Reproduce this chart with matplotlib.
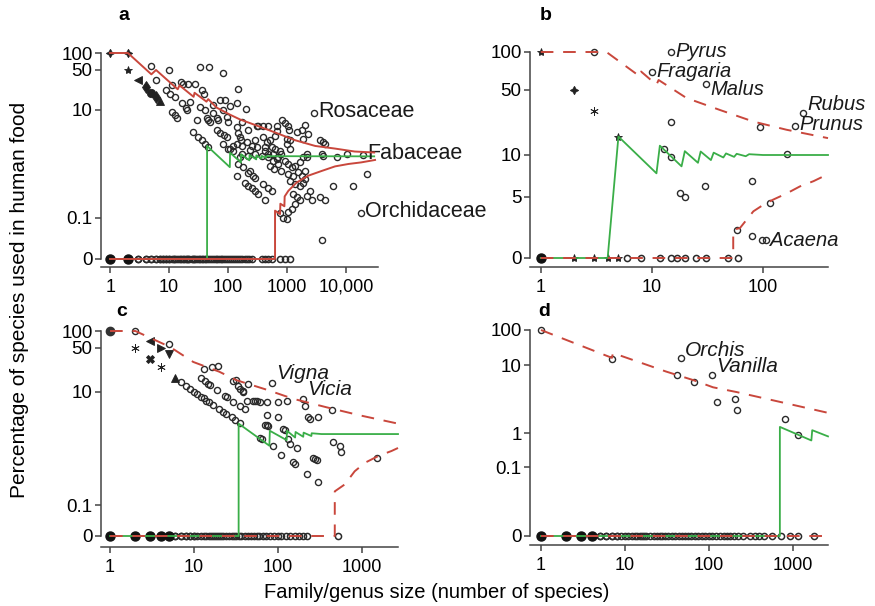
import numpy as np
import matplotlib.pyplot as plt
from matplotlib.ticker import NullLocator

plt.rcParams['font.family'] = ['Liberation Sans', 'DejaVu Sans']

W, H = 875, 606
RED = '#c9473c'
GREEN = '#3aae48'
INK = '#2a2a2a'

# ---------------- panel a : families ----------------
a_size = [5, 6, 10, 11, 16, 17.5, 21, 27.5, 33.5, 48, 81, 150,
          9, 10.4, 12.6, 16.3, 19.5, 20.4, 22.7, 11, 12.6, 13.8,
          35.7, 39, 33.5, 40.6, 43.5, 46, 49.5, 29.4, 56, 64, 68, 83, 95, 101, 89, 56,
          25.8, 31, 36, 41, 46, 64, 73, 85, 95, 101, 140, 144, 140, 108, 73,
          202, 170, 150, 160, 165, 220, 306, 326, 397, 480, 286, 306, 397, 452, 425,
          515, 550, 620, 668, 668, 620, 830, 920, 1050, 1080, 1000, 1100, 990, 1120,
          1500, 1760, 2000, 2250, 1890, 3600, 4100, 4400, 2150, 4000, 6950, 10300,
          170, 220, 236, 286, 375, 425, 480, 587, 710, 760,
          160, 150, 140, 236, 269, 286, 195, 220, 250, 286, 326, 425, 397, 480, 550,
          515, 610, 710, 800, 480, 587, 668, 800, 920, 1050, 1190, 1370, 1660, 1890, 2150,
          1050, 1280, 1560, 1760, 2000, 1120, 1370, 1660, 1890, 2000,
          1280, 1460, 1660, 1370, 1190, 1050, 760, 866, 987,
          2450, 2150, 2620, 3600, 4400, 3900, 6100, 13300, 22400, 3900,
          123, 170, 207, 250, 83, 108, 123, 182, 220]
a_pct = [60, 33.3, 50, 27, 31, 29, 28.6, 29, 57, 57, 43.6, 23,
         22.2, 19.2, 17, 13, 10.7, 10, 14, 9.1, 8.1, 7.1,
         22.3, 19, 11.4, 10, 7.0, 6.5, 6.1, 6.5, 8.7, 7.0, 6.5, 10, 7.5, 6.1, 15, 12,
         3.9, 3.2, 2.8, 2.4, 2.1, 4.26, 3.8, 3.5, 3.2, 1.9, 4.9, 13, 2.4, 11.8, 15,
         10.4, 6.0, 3.8, 3.2, 2.8, 4.3, 5.1, 5.1, 5.1, 5.1, 2.78, 2.09, 3.2, 2.6, 2.1,
         2.78, 2.1, 1.95, 5.2, 4.1, 3.4, 6.5, 5.8, 5.2, 4.3, 3.0, 2.8, 2.4, 1.95,
         4.0, 4.3, 5.3, 3.6, 2.9, 2.8, 2.6, 2.4, 1.37, 1.45, 1.37, 1.58,
         1.58, 1.47, 1.82, 1.58, 1.47, 1.75, 1.55, 1.6, 1.4, 1.75,
         1.37, 1.03, 0.62, 0.77, 0.62, 0.58, 0.47, 0.41, 0.38, 0.33, 0.29, 0.22, 0.44, 0.38, 0.33,
         0.96, 0.83, 1.03, 0.77, 1.37, 1.19, 1.28, 1.58, 1.19, 1.03, 0.89, 0.96, 1.1, 1.37, 1.58,
         0.67, 0.62, 0.72, 0.62, 0.77, 0.5, 0.44, 0.41, 0.47, 0.54,
         0.29, 0.25, 0.22, 0.19, 0.153, 0.132, 0.124, 0.1, 0.095,
         0.33, 0.27, 0.22, 0.25, 0.22, 0.037, 0.41, 0.41, 0.67, 1.58,
         2.2, 2.2, 2.6, 2.2, 2.4, 1.95, 1.8, 0.89, 0.69]
a_named = {'Rosaceae': (2840, 8.9), 'Fabaceae': (19700, 1.5), 'Orchidaceae': (18000, 0.125)}
a_mk_size = [1, 2, 2, 3, 4, 5, 6, 7]
a_mk_pct = [100, 100, 50, 33.3, 25, 20, 16.7, 14.3]
a_mk_sym = [(4, 1, 0), (4, 1, 0), '*', '<', 'd', 'o', 'd', '^']
a_zero_big = [1, 2]
a_zero = [3, 3, 4, 4, 5, 5, 6, 6, 7, 7, 8, 8, 9, 9, 10, 10, 11, 12, 12, 13, 14, 15, 16, 17,
          18, 19, 20, 21, 22, 24, 25, 26, 28, 30, 32, 34, 36, 38, 40, 43, 46, 50, 54, 58,
          62, 66, 70, 75, 80, 86, 92, 100, 108, 116, 125, 135, 145, 160, 175, 190, 210,
          230, 250, 380, 430, 480, 550, 760, 920, 1120]
a_hi_n = [1, 2, 5, 6, 14, 15, 26, 27, 43, 46, 64, 108, 160, 290, 620, 1370, 3000, 6500, 14000, 30000]
a_hi_p = [100, 100, 42, 50, 23, 27, 17, 20, 14, 15.5, 11, 8.2, 6.7, 5.3, 3.9, 2.8, 2.2, 1.97, 1.74, 1.67]
a_mid_n = [1, 44, 44, 107, 108, 165, 166, 230, 231, 300, 301, 370, 371, 440, 441, 30000]
a_mid_p = [0, 0, 2.2, 0.9, 1.65, 1.1, 1.55, 1.2, 1.5, 1.25, 1.48, 1.3, 1.45, 1.33, 1.43, 1.42]
a_lo_n = [1, 625, 625, 760, 770, 900, 910, 1050, 1450, 2300, 3900, 6500, 11000, 18000, 31000]
a_lo_p = [0, 0, 0.14, 0.12, 0.19, 0.17, 0.26, 0.33, 0.47, 0.63, 0.77, 0.93, 1.03, 1.1, 1.22]

# ---------------- panel b : Rosaceae genera ----------------
b_size = [3, 15, 10, 30.6, 228, 194, 94, 15, 12.9, 15, 17.9, 19.8, 30, 79, 115, 58, 79, 99, 106, 164]
b_pct = [100, 100, 70, 56, 28.6, 20.7, 20, 22.4, 11.7, 9.7, 5.35, 5.0, 5.96, 6.5, 3.95, 1.29, 0.95, 0.75, 0.72, 10.2]
b_named = {'Pyrus': (15, 100), 'Fragaria': (10, 70), 'Malus': (30.6, 56),
           'Rubus': (228, 28.6), 'Prunus': (194, 20.7), 'Acaena': (106, 0.72)}
b_label_dy = {'Pyrus': 0, 'Fragaria': 0, 'Malus': -4, 'Rubus': 6, 'Prunus': 1, 'Acaena': 0}
b_mk_size = [1, 2, 3, 5]
b_mk_pct = [100, 50, 30, 15.8]
b_mk_sym = ['*', (4, 1, 0), (6, 2, 0), '*']
b_zero_big = [1]
b_zero_star = [2, 3, 4, 5]
b_zero = [6, 8, 11.8, 15, 17, 20, 25, 30.6, 48.6, 60]
b_hi_n = [1, 3.9, 7.8, 8, 11, 11.5, 20.5, 41, 82, 163, 385]
b_hi_p = [100, 100, 64, 70, 55, 60, 41, 30.5, 22.9, 18.7, 15.2]
b_mid_n = [1, 4, 5, 11, 11.8, 18.5, 19.8, 26, 27.5, 34, 36, 44, 46.5, 55, 58, 70, 75, 100, 385]
b_mid_p = [0, 0, 15.8, 7.4, 12.6, 8.3, 11, 8.8, 10.9, 9.2, 10.6, 9.6, 10.4, 9.7, 10.3, 9.8, 10.2, 10, 10]
b_lo_n = [1, 54, 54, 62, 71, 82, 101, 123, 163, 215, 285, 385]
b_lo_p = [0, 0, 1.29, 1.39, 2.0, 2.85, 3.7, 4.5, 5.3, 5.96, 6.5, 7.3]

# ---------------- panel c : Fabaceae genera ----------------
c_size = [2, 5,
          7, 8, 9, 10, 11, 12, 13, 14, 15, 17, 20, 22, 24, 28, 31, 35,
          61, 64, 88, 110, 152, 160, 219, 300,
          12, 13.5, 14.8, 15.5, 18.6, 23.4, 24.5, 29.4, 35.3, 40,
          70, 74, 77, 115, 120, 133, 139, 170, 265, 275, 290, 455, 550, 570,
          13, 16.2, 19.5, 32, 33.7, 38.7, 42.4, 44, 53, 61, 73.5, 100, 127, 100,
          210, 230, 240, 300, 435, 1500, 51, 57, 29, 35, 38, 73.5]
c_pct = [100, 60,
         14.3, 12.5, 11.1, 10, 9.1, 8.3, 7.7, 7.1, 6.7, 5.9, 5, 4.5, 4.2, 3.6, 3.2, 2.86,
         1.6, 1.5, 1.14, 0.8, 0.59, 0.56, 0.37, 0.27,
         16.7, 14.8, 13.5, 12.9, 10.8, 8.5, 8.2, 6.8, 5.7, 5,
         2.6, 2.6, 2.5, 2.3, 2.2, 1.5, 1.25, 1.05, 0.71, 0.68, 0.65, 1.36, 1.15, 0.9,
         23, 25.3, 26, 15.4, 12.6, 10.3, 7.1, 13.4, 7.1, 6.7, 6.7, 6.7, 6.9, 3.6,
         5.6, 3.6, 3.4, 3.6, 4.8, 0.71, 7.1, 6.9, 14.8, 11, 10, 3.9]
c_named = {'Vigna': (84, 14), 'Vicia': (200, 7.6)}
c_mk_size = [2, 3, 3, 4, 4, 5, 6]
c_mk_pct = [50, 66.7, 33.3, 50, 25, 40, 16.7]
c_mk_sym = [(6, 2, 0), '<', 'X', '>', (6, 2, 0), 'v', '^']
c_zero_big = [1, 2, 3, 4, 5]
c_zero = [6, 6, 7, 7, 8, 8, 9, 9, 10, 10, 11, 12, 13, 14, 15, 16, 17, 18, 19, 20, 21, 22,
          24, 26, 28, 30, 32, 34, 36, 40, 44, 48, 52, 56, 60, 66, 72, 80, 90, 100, 110,
          125, 140, 160, 180, 200, 220, 520]
c_hi_n = [1, 2, 5.2, 9.8, 20, 32, 73, 152, 380, 950, 2690]
c_hi_p = [100, 100, 52, 30, 21, 15.4, 10.9, 7.6, 5.4, 3.9, 2.8]
c_mid_n = [1, 34, 34, 79, 80, 127, 128, 160, 162, 200, 202, 250, 252, 330, 2690]
c_mid_p = [0, 0, 2.8, 1.15, 2.1, 1.44, 2.1, 1.6, 2.0, 1.65, 1.95, 1.7, 1.9, 1.84, 1.84]
c_lo_n = [1, 475, 475, 625, 820, 1090, 1570, 2250, 2690]
c_lo_p = [0, 0, 0.18, 0.24, 0.41, 0.58, 0.76, 0.93, 1.05]

# ---------------- panel d : Orchidaceae genera ----------------
d_size = [1, 7, 42, 67, 126, 203, 218, 800, 1150]
d_pct = [100, 14.5, 7.1, 5.7, 2.87, 3.2, 2.16, 1.6, 0.86]
d_named = {'Orchis': (46.5, 15.5), 'Vanilla': (110, 7.1)}
d_zero_big = [1, 2, 3, 4]
d_zero = [5, 5, 6, 6, 7, 7, 8, 8, 9, 10, 11, 12, 13, 14, 15, 16, 17, 18, 20, 22, 24, 26,
          28, 30, 33, 36, 40, 44, 48, 52, 57, 62, 68, 75, 82, 90, 100, 110, 120, 135, 150,
          165, 180, 200, 224, 255, 310, 350, 400, 450, 560, 730, 920, 1150, 1800]
d_hi_n = [1, 7, 7.2, 31, 65, 112, 214, 700, 2620]
d_hi_p = [100, 16, 22, 8.0, 6.0, 4.7, 4.0, 2.87, 1.98]
d_mid_n = [1, 700, 700, 1660, 1700, 2620]
d_mid_p = [0, 0, 1.23, 0.61, 1.1, 0.8]
d_lo_n = [1, 2620]
d_lo_p = [0, 0]


def make_axes(fig, left, right, zero, vals, heights, soft, xlim, ylim):
    # y axis: piecewise scale pinned to the tick positions of the original
    hv = np.arcsinh(np.array(vals, float) / soft)
    hh = np.array(heights, float)

    def fwd(y):
        return np.interp(np.arcsinh(np.asarray(y, float) / soft), hv, hh)

    def inv(t):
        return soft * np.sinh(np.interp(np.asarray(t, float), hh, hv))

    hb, ht = fwd(ylim[0]), fwd(ylim[1])
    ax = fig.add_axes([left / W, (H - zero + hb) / H, (right - left) / W, (ht - hb) / H])
    ax.set_xscale('log')
    ax.set_xlim(xlim)
    ax.set_yscale('function', functions=(fwd, inv))
    ax.set_ylim(ylim)
    ax.set_facecolor('none')
    return ax


def style(ax, yticks, ylabels, xticks, xlabels):
    for s in ['top', 'right']:
        ax.spines[s].set_visible(False)
    for s in ['left', 'bottom']:
        ax.spines[s].set_linewidth(1.1)
        ax.spines[s].set_color('#444444')
    ax.spines['left'].set_bounds(0, 100)
    ax.set_yticks(yticks)
    ax.set_yticklabels(ylabels)
    ax.set_xticks(xticks)
    ax.set_xticklabels(xlabels)
    ax.yaxis.set_minor_locator(NullLocator())
    ax.xaxis.set_minor_locator(NullLocator())
    ax.tick_params(axis='y', length=4.5, width=1.1, color='#444444', pad=1.5, labelsize=13.5)
    ax.tick_params(axis='x', length=4.5, width=1.1, color='#444444', pad=4, labelsize=13)


def draw_points(ax, size, pct, zero_big, zero):
    ax.plot(size, pct, 'o', mfc='none', mec=INK, ms=4.4, mew=1.0, clip_on=False, zorder=2)
    ax.plot(zero, [0] * len(zero), 'o', mfc='none', mec=INK, ms=4.4, mew=1.1, clip_on=False, zorder=2)
    ax.plot(zero_big, [0] * len(zero_big), 'o', color='#111111', ms=6.5, clip_on=False, zorder=2)


def draw_marks(ax, size, pct, syms):
    for n, p, m in zip(size, pct, syms):
        ax.plot(n, p, marker=m, color='#222222', ms=6, mew=0.6, ls='none', clip_on=False, zorder=2)


def draw_lines(ax, hi, mid, lo, dashed):
    kw = dict(dashes=(6.5, 5)) if dashed else {}
    ax.plot(mid[0], mid[1], color=GREEN, lw=1.3, clip_on=False, zorder=3)
    ax.plot(hi[0], hi[1], color=RED, lw=1.4, clip_on=False, zorder=4, **kw)
    ax.plot(lo[0], lo[1], color=RED, lw=1.4, clip_on=False, zorder=4, **kw)


def name_points(ax, named, dy, italic, size=15):
    for name, (n, p) in named.items():
        off = dy[name] if isinstance(dy, dict) else dy
        ax.annotate(name, xy=(n, p), xytext=(3, off), textcoords='offset points',
                    ha='left', va='center', fontsize=size,
                    style='italic' if italic else 'normal', color='#1a1a1a')


fig = plt.figure(figsize=(W / 100, H / 100), dpi=100)

# a
ax = make_axes(fig, 101, 378, 259, [-0.01, 0, 0.1, 10, 50, 100, 300],
               [-8, 0, 41, 149, 189, 206, 233], 0.05, (0.70, 34800), (-0.01, 150))
draw_points(ax, a_size, a_pct, a_zero_big, a_zero)
draw_marks(ax, a_mk_size, a_mk_pct, a_mk_sym)
draw_lines(ax, (a_hi_n, a_hi_p), (a_mid_n, a_mid_p), (a_lo_n, a_lo_p), False)
ax.plot([v[0] for v in a_named.values()], [v[1] for v in a_named.values()], 'o',
        mfc='none', mec=INK, ms=4.4, mew=1.0, clip_on=False)
name_points(ax, a_named, 1, False, 15.5)
style(ax, [0, 0.1, 10, 50, 100], ['0', '0.1', '10', '50', '100'],
      [1, 10, 100, 1000, 10000], ['1', '10', '100', '1000', '10,000'])

# b
ax = make_axes(fig, 530, 828, 258, [-1, 0, 5, 10, 50, 100, 300],
               [-9, 0, 61, 103, 168, 206, 260], 1.0, (0.80, 385), (-1, 150))
draw_points(ax, b_size, b_pct, b_zero_big, b_zero)
draw_marks(ax, b_mk_size, b_mk_pct, b_mk_sym)
draw_marks(ax, b_zero_star, [0] * len(b_zero_star), ['*'] * len(b_zero_star))
draw_lines(ax, (b_hi_n, b_hi_p), (b_mid_n, b_mid_p), (b_lo_n, b_lo_p), True)
name_points(ax, b_named, b_label_dy, True, 14.5)
style(ax, [0, 5, 10, 50, 100], ['0', '5', '10', '50', '100'],
      [1, 10, 100], ['1', '10', '100'])

# c
ax = make_axes(fig, 101, 398, 536, [-0.01, 0, 0.1, 10, 50, 100, 300],
               [-11, 0, 31, 144, 188, 205, 235], 0.05, (0.78, 2690), (-0.01, 150))
draw_points(ax, c_size, c_pct, c_zero_big, c_zero)
draw_marks(ax, c_mk_size, c_mk_pct, c_mk_sym)
ax.plot(1, 100, 'o', color='#333333', ms=6, clip_on=False, zorder=2)
draw_lines(ax, (c_hi_n, c_hi_p), (c_mid_n, c_mid_p), (c_lo_n, c_lo_p), True)
ax.plot([v[0] for v in c_named.values()], [v[1] for v in c_named.values()], 'o',
        mfc='none', mec=INK, ms=4.4, mew=1.0, clip_on=False)
name_points(ax, c_named, 7, True)
style(ax, [0, 0.1, 10, 50, 100], ['0', '0.1', '10', '50', '100'],
      [1, 10, 100, 1000], ['1', '10', '100', '1000'])

# d
ax = make_axes(fig, 530, 828, 536, [-0.01, 0, 0.1, 1, 10, 100, 300],
               [-9, 0, 69, 103, 171, 206, 235], 0.05, (0.74, 2620), (-0.01, 150))
draw_points(ax, d_size, d_pct, d_zero_big, d_zero)
draw_lines(ax, (d_hi_n, d_hi_p), (d_mid_n, d_mid_p), (d_lo_n, d_lo_p), True)
ax.plot([v[0] for v in d_named.values()], [v[1] for v in d_named.values()], 'o',
        mfc='none', mec=INK, ms=4.4, mew=1.0, clip_on=False)
name_points(ax, d_named, 6, True)
style(ax, [0, 0.1, 1, 10, 100], ['0', '0.1', '1', '10', '100'],
      [1, 10, 100, 1000], ['1', '10', '100', '1000'])

for letter, x, y in [('a', 118, 15), ('b', 540, 15), ('c', 116, 312), ('d', 538, 312)]:
    fig.text(x / W, 1 - y / H, letter, fontsize=14, fontweight='bold', va='center')

fig.text(20 / W, 1 - 300 / H, 'Percentage of species used in human food',
         rotation=90, ha='center', va='center', fontsize=15)
fig.text(437 / W, 1 - 593 / H, 'Family/genus size (number of species)',
         ha='center', va='center', fontsize=14.5)

fig.savefig('out.png', dpi=100)
